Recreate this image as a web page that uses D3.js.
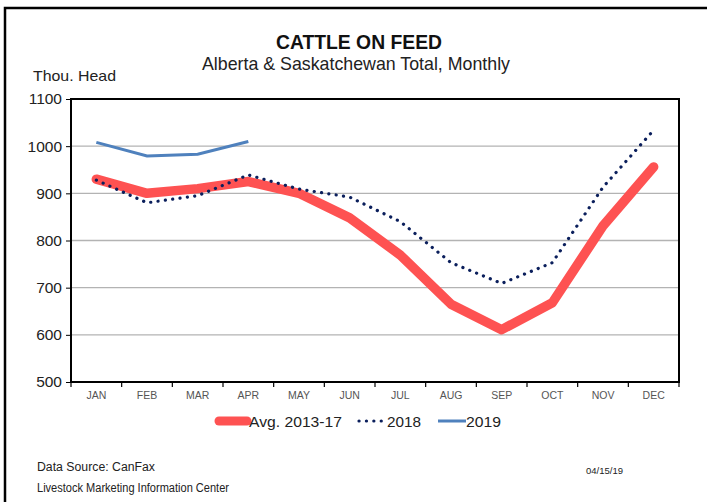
<!DOCTYPE html>
<html><head><meta charset="utf-8">
<script src="https://cdn.jsdelivr.net/npm/d3@7"></script>
<style>
body{margin:0;background:#fff;}
svg{display:block;}
text{font-family:"Liberation Sans Narrow","Liberation Sans",Arial,sans-serif;}
</style></head>
<body>
<svg id="c" width="707" height="502"></svg>
<script>
const months = ["JAN","FEB","MAR","APR","MAY","JUN","JUL","AUG","SEP","OCT","NOV","DEC"];
const avg1317 = [930, 900, 910, 925, 900, 848, 769, 665, 611, 668, 831, 956];
const y2018 = [928, 880, 895, 939, 909, 892, 840, 753, 709, 753, 913, 1034];
const y2019 = [1008, 979, 983, 1010];
const yTicks = [500, 600, 700, 800, 900, 1000, 1100];
const seriesNames = ["Avg. 2013-17", "2018", "2019"];

const svg = d3.select("#c");
const m = {l:71, t:99, r:679, b:382};

function fit(sel, len){ return sel.attr("textLength",len).attr("lengthAdjust","spacingAndGlyphs"); }

// outer frame (top & left visible)
svg.append("rect").attr("x",5).attr("y",8).attr("width",720).attr("height",520)
  .attr("fill","none").attr("stroke","#000").attr("stroke-width",2.5);

const x = d3.scaleBand().domain(months).range([m.l, m.r]);
const y = d3.scaleLinear().domain([500,1100]).range([m.b, m.t]);

// gridlines
svg.append("g").selectAll("line").data(yTicks.slice(1,-1)).join("line")
  .attr("x1",m.l).attr("x2",m.r).attr("y1",d=>y(d)).attr("y2",d=>y(d))
  .attr("stroke","#b3b3b3").attr("stroke-width",1.3);

// plot frame
svg.append("rect").attr("x",m.l).attr("y",m.t).attr("width",m.r-m.l).attr("height",m.b-m.t)
  .attr("fill","none").attr("stroke","#000").attr("stroke-width",2);

// y axis
const ya = svg.append("g").attr("transform",`translate(${m.l},0)`)
  .call(d3.axisLeft(y).tickValues(yTicks).tickSize(5).tickPadding(4).tickFormat(d3.format("d")));
ya.select(".domain").remove();
ya.selectAll("line").attr("stroke","#000");
ya.selectAll("text").attr("font-size",15.5).attr("fill","#222");

// x axis
const xa = svg.append("g").attr("transform",`translate(0,${m.b})`)
  .call(d3.axisBottom(x).tickSize(0).tickPadding(10));
xa.select(".domain").remove();
xa.selectAll("text").attr("font-size",10.5).attr("fill","#555");
// boundary tick marks
svg.append("g").selectAll("line").data(d3.range(months.length+1)).join("line")
  .attr("x1",i=>m.l+i*x.step()).attr("x2",i=>m.l+i*x.step())
  .attr("y1",m.b).attr("y2",m.b+5).attr("stroke","#000").attr("stroke-width",1.2);

const line = d3.line().x((d,i)=>x(months[i])+x.bandwidth()/2).y(d=>y(d));

svg.append("path").datum(avg1317).attr("d",line).attr("fill","none")
  .attr("stroke","#fe5252").attr("stroke-width",9.5).attr("stroke-linecap","round").attr("stroke-linejoin","round");
svg.append("path").datum(y2018).attr("d",line).attr("fill","none")
  .attr("stroke","#0b1f5c").attr("stroke-width",3.2).attr("stroke-dasharray","0.1 7.3").attr("stroke-linecap","round");
svg.append("path").datum(y2019).attr("d",line).attr("fill","none")
  .attr("stroke","#4f81bd").attr("stroke-width",3);

// titles
fit(svg.append("text").attr("x",276).attr("y",49)
  .attr("font-size",19.5).attr("font-weight","bold").attr("fill","#111")
  .text("CATTLE ON FEED"), 166);
fit(svg.append("text").attr("x",202).attr("y",70)
  .attr("font-size",19).attr("fill","#222").text("Alberta & Saskatchewan Total, Monthly"), 308);
fit(svg.append("text").attr("x",33).attr("y",81).attr("font-size",15).attr("fill","#222").text("Thou. Head"), 83);

// legend
const lg = svg.append("g");
const legendItems = [
  {name:seriesNames[0], x1:219, x2:247, color:"#fe5252", w:9, dash:null, cap:"round", tx:249, tw:93},
  {name:seriesNames[1], x1:359, x2:386, color:"#0b1f5c", w:3.2, dash:"0.1 7.3", cap:"round", tx:387, tw:34},
  {name:seriesNames[2], x1:438, x2:466, color:"#4f81bd", w:3, dash:null, cap:"butt", tx:466, tw:35}
];
legendItems.forEach(it=>{
  lg.append("line").attr("x1",it.x1).attr("x2",it.x2).attr("y1",421).attr("y2",421)
    .attr("stroke",it.color).attr("stroke-width",it.w).attr("stroke-dasharray",it.dash)
    .attr("stroke-linecap",it.cap);
  fit(lg.append("text").attr("x",it.tx).attr("y",427).attr("font-size",15.5)
    .attr("fill","#222").text(it.name), it.tw);
});

// footer
fit(svg.append("text").attr("x",37).attr("y",471).attr("font-size",12.5).attr("fill","#222").text("Data Source:  CanFax"), 118);
fit(svg.append("text").attr("x",37).attr("y",492).attr("font-size",12).attr("fill","#222").text("Livestock Marketing Information Center"), 192);
fit(svg.append("text").attr("x",586).attr("y",474).attr("font-size",9).attr("fill","#222").text("04/15/19"), 37);
</script>
</body></html>
